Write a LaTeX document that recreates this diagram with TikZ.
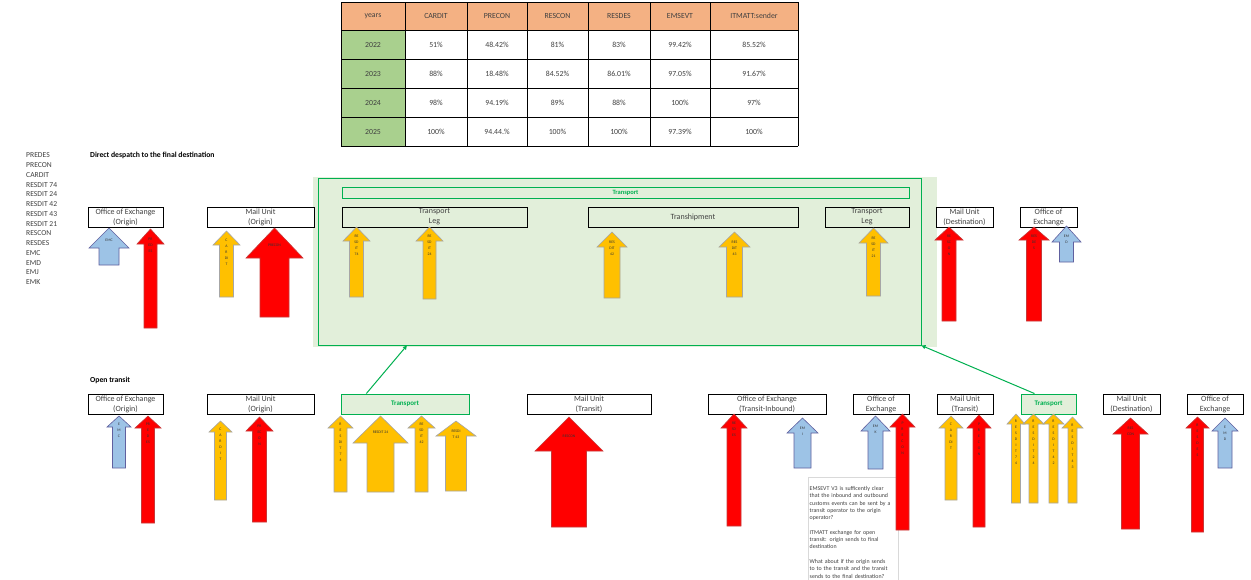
\documentclass[tikz,border=0pt]{standalone}
\usepackage{fontspec}
\setmainfont{Carlito}
\usetikzlibrary{arrows.meta,calc}

\definecolor{tgreen}{RGB}{0,176,80}
\definecolor{tpale}{RGB}{226,239,218}
\definecolor{headfill}{RGB}{244,177,131}
\definecolor{yearfill}{RGB}{169,208,142}
\definecolor{evred}{RGB}{255,0,0}
\definecolor{evyellow}{RGB}{255,192,0}
\definecolor{evblue}{RGB}{157,195,230}
\definecolor{ink}{RGB}{64,64,64}

\tikzset{
  unitbox/.style={draw,line width=0.9pt,fill=white,minimum height=20pt,inner sep=0pt,align=center,font=\fontsize{8}{10}\selectfont,text=ink},
  greenbox/.style={draw=tgreen,line width=0.9pt,fill=tpale,minimum height=20pt,inner sep=0pt,font=\bfseries\fontsize{7}{8}\selectfont,text=tgreen},
  redarrow/.style={fill=evred,draw=red!55!gray,line width=0.6pt},
  yellowarrow/.style={fill=evyellow,draw=black!35,line width=0.6pt},
  bluearrow/.style={fill=evblue,draw=blue!25!gray,line width=0.6pt},
  arrowtext/.style={anchor=north,inner sep=0pt,align=center,font=\fontsize{3.8}{6}\selectfont,text=black!80},
  tabtext/.style={font=\fontsize{7.8}{9}\selectfont,text=ink},
  listtext/.style={anchor=west,inner sep=0pt,font=\fontsize{7.6}{9}\selectfont,text=ink},
  heading/.style={anchor=west,inner sep=0pt,font=\bfseries\fontsize{7.7}{9}\selectfont},
  flowline/.style={draw=tgreen,line width=1pt,-{Triangle[length=4pt,width=4pt]}}
}

\newcommand\blockarrow[9]{%
  \draw[#1] (#2,#5) -- ({#2+#3},#6) -- ({#2+#4},#6) -- ({#2+#4},#7)
    -- ({#2-#4},#7) -- ({#2-#4},#6) -- ({#2-#3},#6) -- cycle;
  \node[arrowtext] (#8) at (#2,{(#5+#6)/2+1}) {#9};}

\begin{document}
\begin{tikzpicture}[x=1pt,y=-1pt]
\path[use as bounding box,fill=white] (0,0) rectangle (1251,579);

\fill[headfill] (341,2) rectangle (798,30);
\fill[yearfill] (341,30) rectangle (405,146);
\foreach \gx in {341,405,467,527,588,650,710,798}
  \draw[line width=0.6pt] (\gx,2) -- (\gx,146);
\foreach \gy in {2,30,59,88,117,146}
  \draw[line width=0.6pt] (341,\gy) -- (798,\gy);
\foreach \t/\cx [count=\i] in {years/373,CARDIT/436,PRECON/497,RESCON/557.5,RESDES/619,EMSEVT/680,ITMATT:sender/754}
  \node[tabtext] (head\i) at (\cx,16) {\t};
\foreach \ry/\yr/\pa/\pb/\pc/\pd/\pe/\pf [count=\r] in {
  44.5/2022/51\%/48.42\%/81\%/83\%/99.42\%/85.52\%,
  73.5/2023/88\%/18.48\%/84.52\%/86.01\%/97.05\%/91.67\%,
  102.5/2024/98\%/94.19\%/89\%/88\%/100\%/97\%,
  131.5/2025/100\%/94.44.\%/100\%/100\%/97.39\%/100\%}{
  \node[tabtext] (year\r) at (373,\ry) {\yr};
  \node[tabtext] (cardit\r) at (436,\ry) {\pa};
  \node[tabtext] (precon\r) at (497,\ry) {\pb};
  \node[tabtext] (rescon\r) at (557.5,\ry) {\pc};
  \node[tabtext] (resdes\r) at (619,\ry) {\pd};
  \node[tabtext] (emsevt\r) at (680,\ry) {\pe};
  \node[tabtext] (itmatt\r) at (754,\ry) {\pf};
}

\foreach \t [count=\i] in {PREDES,PRECON,CARDIT,RESDIT 74,RESDIT 24,RESDIT 42,RESDIT 43,RESDIT 21,RESCON,RESDES,EMC,EMD,EMJ,EMK}
  \node[listtext] (msg\i) at (26,{145.5+\i*9.77}) {\t};

\node[heading] (direct) at (90,155) {Direct despatch to the final destination};
\node[heading] (open) at (90,380) {Open transit};

\fill[tpale] (313,177) rectangle (937,347);
\node[draw=tgreen,line width=1pt,minimum width=603pt,minimum height=167pt,inner sep=0pt] (tframe) at (619.5,261.5) {};
\node[draw=tgreen,line width=0.8pt,minimum width=567pt,minimum height=11pt,inner sep=0pt,font=\bfseries\fontsize{6.5}{7}\selectfont,text=tgreen] (tbar) at (625.5,192.5) {Transport};

\node[unitbox,minimum width=75pt] (oexo) at (125.5,217) {Office of Exchange\\(Origin)};
\node[unitbox,minimum width=107pt] (muo) at (260.5,217) {Mail Unit\\(Origin)};
\node[unitbox,minimum width=185pt,fill=tpale] (leg1) at (434.5,217) {Transport\\Leg};
\node[unitbox,minimum width=210pt,fill=tpale] (tship) at (693,217) {Transhipment};
\node[unitbox,minimum width=84pt,fill=tpale] (leg2) at (867,217) {Transport\\Leg};
\node[unitbox,minimum width=57pt] (mud) at (964.5,217) {Mail Unit\\(Destination)};
\node[unitbox,minimum width=57pt] (oexd) at (1048.5,217) {Office of\\Exchange};

\node[unitbox,minimum width=75pt] (oexo2) at (125.5,404) {Office of Exchange\\(Origin)};
\node[unitbox,minimum width=107pt] (muo2) at (260.5,404) {Mail Unit\\(Origin)};
\node[greenbox,minimum width=128pt] (trl) at (405,404) {Transport};
\node[unitbox,minimum width=124pt] (mut) at (589,404) {Mail Unit\\(Transit)};
\node[unitbox,minimum width=118pt] (oexti) at (767,404) {Office of Exchange\\(Transit-Inbound)};
\node[unitbox,minimum width=56pt] (oext) at (881,404) {Office of\\Exchange};
\node[unitbox,minimum width=56pt] (mut2) at (965,404) {Mail Unit\\(Transit)};
\node[greenbox,minimum width=55pt] (trr) at (1048.5,404) {Transport};
\node[unitbox,minimum width=57pt] (mud2) at (1131.5,404) {Mail Unit\\(Destination)};
\node[unitbox,minimum width=56pt] (oexd2) at (1215,404) {Office of\\Exchange};

\draw[flowline] ($(trl.north west)!0.2!(trl.north east)$) -- ($(tframe.south west)!0.148!(tframe.south east)$);
\draw[flowline] ($(trr.north west)!0.25!(trr.north east)$) -- (tframe.south east);

\node[draw=black!15,fill=white,anchor=north west,text width=87pt,inner xsep=1.5pt,inner ysep=2pt,minimum height=110pt,align=left,font=\fontsize{5.9}{7.3}\selectfont,text=ink] (note) at (808,477) {EMSEVT V3 is sufficently clear\\that the inbound and outbound\\customs events can be sent by a\\transit operator to the origin\\operator?\\[7.3pt]ITMATT exchange for open\\transit: origin sends to final\\destination\\[7.3pt]What about if the origin sends\\to to the transit and the transit\\sends to the final destination?};

\blockarrow{bluearrow}{109}{20}{10}{228}{248}{265}{emc1}{EMC}
\blockarrow{redarrow}{150.5}{13.5}{6.5}{229}{244}{328}{predes1}{PR\\ED\\ES}
\blockarrow{yellowarrow}{226.5}{13.5}{7}{231}{245}{297}{cardit1}{C\\A\\R\\DI\\T}
\blockarrow{redarrow}{274.5}{28.5}{14.5}{228}{258}{317}{precon1}{PRECON}
\blockarrow{yellowarrow}{356.5}{13.5}{7}{227}{241}{297}{resdit74a}{RE\\SD\\IT\\74}
\blockarrow{yellowarrow}{429.5}{13.5}{6.5}{227}{241}{299}{resdit24a}{RE\\SD\\IT\\24}
\blockarrow{yellowarrow}{612}{15}{8}{232}{247}{298}{resdit42a}{RES\\DIT\\42}
\blockarrow{yellowarrow}{734.5}{15.5}{8}{232}{247}{297}{resdit43a}{RES\\DIT\\43}
\blockarrow{yellowarrow}{873.5}{14.5}{7}{228}{243}{296}{resdit21a}{RE\\SD\\IT\\21}
\blockarrow{redarrow}{949}{14}{7}{227}{240}{321}{rescon1}{RE\\SC\\O\\N}
\blockarrow{redarrow}{1034}{15}{7.5}{227}{240}{321}{resdes1}{RES\\DE\\S}
\blockarrow{bluearrow}{1066.5}{14.5}{7}{226}{242}{262}{emd1}{EM\\D}

\blockarrow{bluearrow}{119}{12}{6.5}{416}{427}{468}{emc2}{E\\M\\C}
\blockarrow{redarrow}{148}{13}{6.5}{416}{428}{523}{predes2}{PR\\E\\D\\ES}
\blockarrow{yellowarrow}{220.5}{11.5}{6}{421}{432}{500}{cardit2}{C\\A\\R\\D\\I\\T}
\blockarrow{redarrow}{259.5}{13.5}{7}{417}{431}{522}{precon2}{PR\\EC\\O\\N}
\blockarrow{yellowarrow}{340.5}{12.5}{6.5}{416}{428}{492}{resdit74b}{R\\E\\S\\DI\\T\\7\\4}
\blockarrow{yellowarrow}{380.5}{27.5}{13.5}{416}{443}{492}{resdit24b}{RESDIT 24}
\blockarrow{yellowarrow}{421.5}{13.5}{6.5}{416}{428}{492}{resdit42b}{RE\\SD\\IT\\42}
\blockarrow{yellowarrow}{456}{20}{10.5}{421}{436}{491}{resdit43b}{RESDI\\T 43}
\blockarrow{redarrow}{569}{34}{17.5}{417}{451}{527}{rescon2}{RESCON}
\blockarrow{redarrow}{734}{13}{7}{414}{428}{526}{resdes2}{RE\\SD\\ES}
\blockarrow{bluearrow}{802.5}{15.5}{8.5}{418}{433}{468}{emi2}{EM\\I}
\blockarrow{bluearrow}{875.5}{14.5}{7.5}{416}{431}{469}{emk2}{EM\\K}
\blockarrow{redarrow}{902.5}{12.5}{6.5}{414}{427}{530}{precon3}{P\\R\\E\\C\\O\\N}
\blockarrow{yellowarrow}{951}{12}{6}{416}{428}{500}{cardit3}{C\\A\\R\\DI\\T}
\blockarrow{redarrow}{979}{12}{6}{415}{428}{527}{precon4}{P\\R\\E\\C\\O\\N}
\blockarrow{yellowarrow}{1016}{9}{4.5}{414}{424}{503}{resdit74c}{R\\E\\S\\D\\I\\T\\7\\4}
\blockarrow{yellowarrow}{1033.5}{10.5}{4.5}{414}{424}{503}{resdit24c}{R\\E\\S\\D\\I\\T\\2\\4}
\blockarrow{yellowarrow}{1053.5}{10.5}{4.5}{414}{424}{503}{resdit42c}{R\\E\\S\\D\\I\\T\\4\\2}
\blockarrow{yellowarrow}{1072.5}{10.5}{4.5}{417}{428}{503}{resdit43c}{R\\E\\S\\D\\I\\T\\4\\3}
\blockarrow{redarrow}{1130.5}{17.5}{9}{418}{434}{529}{rescon3}{RES\\CON}
\blockarrow{redarrow}{1197.5}{11.5}{6}{417}{428}{532}{resdes3}{R\\E\\S\\D\\E\\S}
\blockarrow{bluearrow}{1225}{13}{7}{418}{431}{468}{emd2}{E\\M\\D}

\end{tikzpicture}
\end{document}
